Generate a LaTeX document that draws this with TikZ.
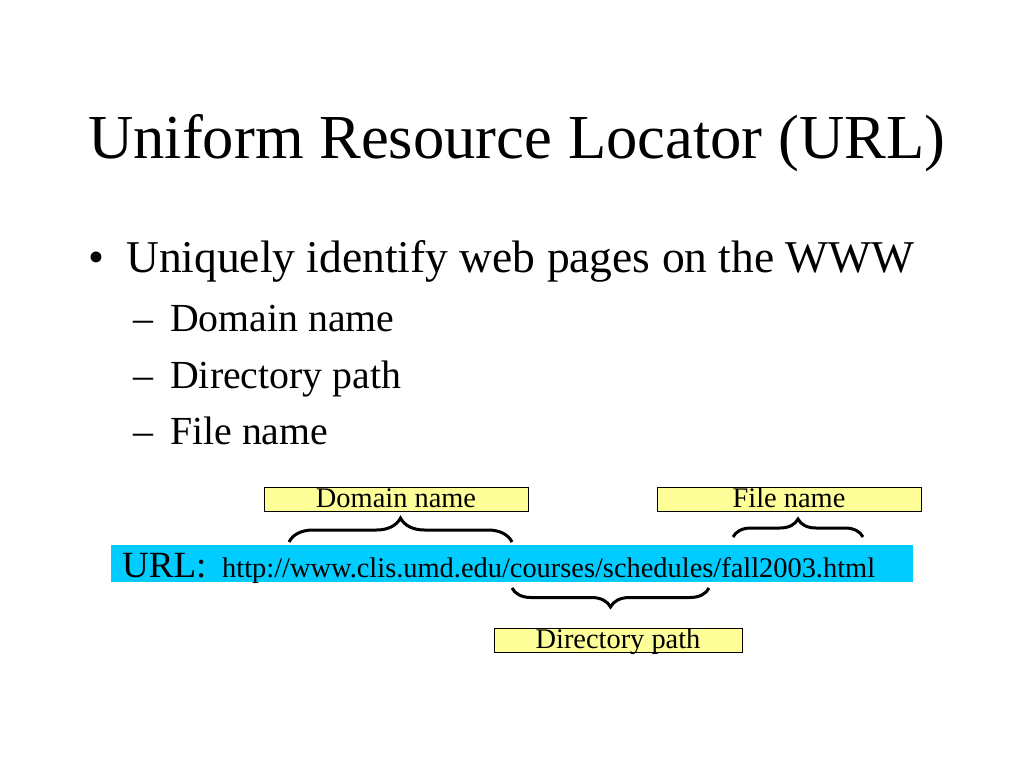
\documentclass[tikz,border=0pt]{standalone}
\usepackage{fontspec}
\setmainfont{Liberation Serif}
\usetikzlibrary{decorations.pathreplacing}
\definecolor{urlcyan}{RGB}{0,204,255}
\definecolor{labelyellow}{RGB}{255,255,153}

\begin{document}
\begin{tikzpicture}[x=1pt,y=-1pt,
  txt/.style={inner sep=0pt,anchor=base west},
  labelbox/.style={draw=black,fill=labelyellow,line width=0.8pt,inner sep=0pt,
    text height=20pt,text depth=4pt,font=\fontsize{28.4}{30}\selectfont},
  curly/.style={decorate,decoration={brace,amplitude=#1},line width=3pt}]
\useasboundingbox (0,0) rectangle (1024,768);

\node[txt,font=\fontsize{62.6}{70}\selectfont] (title) at (88,158) {Uniform Resource Locator (URL)};
\node[txt,font=\fontsize{45.5}{50}\selectfont] (bul) at (88,272) {\textbullet};
\node[txt,font=\fontsize{45.5}{50}\selectfont] (point) at (126,272) {Uniquely identify web pages on the WWW};
\node[txt,font=\fontsize{39.8}{44}\selectfont] (dash1) at (133,331) {--};
\node[txt,font=\fontsize{39.8}{44}\selectfont] (sub1) at (170,331) {Domain name};
\node[txt,font=\fontsize{39.8}{44}\selectfont] (dash2) at (133,388) {--};
\node[txt,font=\fontsize{39.8}{44}\selectfont] (sub2) at (170,388) {Directory path};
\node[txt,font=\fontsize{39.8}{44}\selectfont] (dash3) at (133,444) {--};
\node[txt,font=\fontsize{39.8}{44}\selectfont] (sub3) at (170,444) {File name};

% the url bar
\node[fill=urlcyan,inner sep=0pt,minimum width=802pt,minimum height=37pt] (url) at (512,563.5) {};
\node[txt,font=\fontsize{37}{40}\selectfont] (urlhead) at (122,577) {URL:};
\node[txt,font=\fontsize{28.4}{30}\selectfont] (urltext) at (222,577) {http://www.clis.umd.edu/courses/schedules/fall2003.html};

% labels
\node[labelbox,minimum width=264pt] (domain) at (396,499) {Domain name};
\node[labelbox,minimum width=264pt] (file) at (789,499) {File name};
\node[labelbox,minimum width=248pt] (dir) at (618,640) {Directory path};

% braces
\coordinate (d1) at (289,542);
\coordinate (d2) at (512,542);
\coordinate (f1) at (733,537);
\coordinate (f2) at (863,537);
\coordinate (p1) at (709,588);
\coordinate (p2) at (512,588);
\draw[curly=24pt] (d1) -- (d2);
\draw[curly=18pt] (f1) -- (f2);
\draw[curly=19pt] (p1) -- (p2);
\end{tikzpicture}
\end{document}
